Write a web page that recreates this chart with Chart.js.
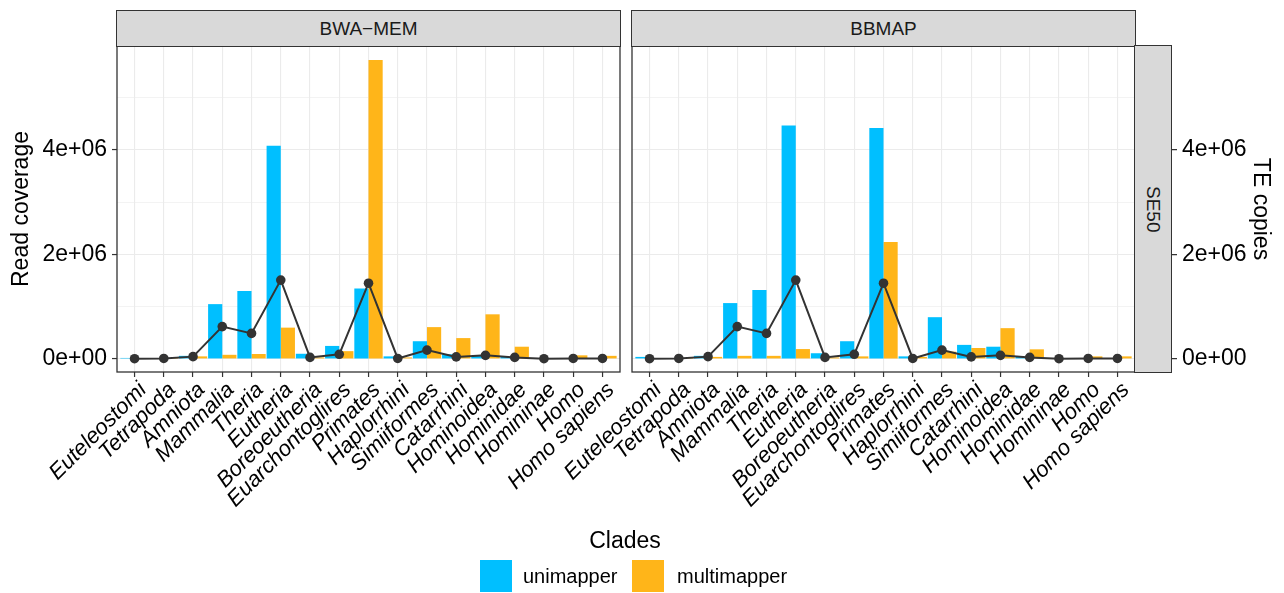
<!DOCTYPE html>
<html>
<head>
<meta charset="utf-8">
<script src="https://cdn.jsdelivr.net/npm/chart.js@4.4.1/dist/chart.umd.min.js"></script>
<style>
  html, body { margin: 0; padding: 0; background: #fff; }
  #fig { position: relative; width: 1284px; height: 593px; overflow: hidden;
         font-family: "Liberation Sans", Arial, Helvetica, sans-serif; }
  #fig canvas { position: absolute; top: 0; }
  .strip { position: absolute; box-sizing: border-box; background: #d9d9d9;
           border: 1px solid #333; color: #1a1a1a; font-size: 19px;
           display: flex; align-items: center; justify-content: center; z-index: 2; }
  .strip.side { writing-mode: vertical-rl; }
  .legend-title { position: absolute; left: 525px; width: 200px; top: 527px;
                  text-align: center; font-size: 23px; line-height: 27px; color: #000; }
  .key { position: absolute; top: 560px; width: 32px; height: 32px; }
  .key-label { position: absolute; top: 565px; font-size: 20px; line-height: 23px; color: #000; }
</style>
</head>
<body>
<div id="fig">
  <canvas id="bwa" width="626" height="593" style="left:0"></canvas>
  <canvas id="bbmap" width="784" height="593" style="left:500px"></canvas>
  <div class="strip" style="left:116px; top:10px; width:505px; height:37px;">BWA−MEM</div>
  <div class="strip" style="left:631px; top:10px; width:505px; height:37px;">BBMAP</div>
  <div class="strip side" style="left:1134px; top:45px; width:38px; height:328px;">SE50</div>
  <div class="legend-title">Clades</div>
  <div class="key" style="left:480px; background:#00bfff;"></div>
  <div class="key-label" style="left:523px;">unimapper</div>
  <div class="key" style="left:632px; background:#ffb519;"></div>
  <div class="key-label" style="left:677px;">multimapper</div>
</div>
<script>
// Clades along the x axis, oldest to youngest
const clades = ['Euteleostomi', 'Tetrapoda', 'Amniota', 'Mammalia', 'Theria', 'Eutheria',
  'Boreoeutheria', 'Euarchontoglires', 'Primates', 'Haplorrhini', 'Simiiformes', 'Catarrhini',
  'Hominoidea', 'Hominidae', 'Homininae', 'Homo', 'Homo sapiens'];

// Read coverage per clade, BWA-MEM aligner
const bwaUnimapper   = [20000, 10000, 60000, 1050000, 1300000, 4080000, 100000, 250000, 1350000,
  50000, 340000, 90000, 60000, 40000, 10000, 10000, 10000];
const bwaMultimapper = [10000, 20000, 50000, 80000, 95000, 600000, 30000, 150000, 5720000,
  30000, 610000, 400000, 855000, 235000, 10000, 70000, 60000];

// Read coverage per clade, BBMAP aligner
const bbmapUnimapper   = [40000, 10000, 60000, 1070000, 1320000, 4470000, 110000, 340000, 4420000,
  50000, 800000, 270000, 235000, 40000, 10000, 10000, 10000];
const bbmapMultimapper = [10000, 20000, 40000, 60000, 60000, 190000, 30000, 50000, 2240000,
  40000, 140000, 210000, 590000, 185000, 10000, 50000, 50000];

// Number of TE copies per clade (same for both aligners)
const teCopies = [6000, 10000, 45000, 620000, 490000, 1510000, 30000, 90000, 1450000,
  10000, 170000, 40000, 70000, 30000, 5000, 10000, 10000];

// y axis: gridlines every 1e6, labelled every 2e6
const yTicks = [0, 1000000, 2000000, 3000000, 4000000, 5000000];
const yLabelled = [0, 2000000, 4000000];
const yMin = -249000, yMax = 5990000;

const FONT = '"Liberation Sans", Arial, Helvetica, sans-serif';
const BLUE = '#00bfff', ORANGE = '#ffb519', INK = '#333333', GRID = '#ebebeb';

function sci(v) {
  if (v === 0) return '0e+00';
  const e = Math.floor(Math.log10(Math.abs(v)));
  const m = Math.round(v / Math.pow(10, e));
  return m + 'e' + (e < 0 ? '-' : '+') + String(Math.abs(e)).padStart(2, '0');
}
const isMajor = v => yLabelled.includes(v);
const pts = arr => arr.map((v, i) => ({ x: i, y: v }));

// dark frame round each facet panel
const panelFrame = {
  id: 'panelFrame',
  afterDraw(chart) {
    const { ctx, chartArea: a } = chart;
    ctx.save();
    ctx.strokeStyle = INK;
    ctx.lineWidth = 1.3;
    ctx.strokeRect(a.left, a.top, a.right - a.left, a.bottom - a.top);
    ctx.restore();
  }
};

function makeDatasets(uni, multi) {
  return [
    { type: 'line', label: 'TE copies', data: pts(teCopies), order: 0,
      borderColor: INK, borderWidth: 2, pointRadius: 4.8, pointBackgroundColor: INK,
      pointBorderWidth: 0, tension: 0 },
    { type: 'bar', label: 'unimapper', data: pts(uni), order: 1,
      backgroundColor: BLUE, borderWidth: 0 },
    { type: 'bar', label: 'multimapper', data: pts(multi), order: 1,
      backgroundColor: ORANGE, borderWidth: 0 }
  ];
}

function xScale() {
  return {
    type: 'linear', min: -0.6, max: clades.length - 0.4, offset: false,
    afterBuildTicks: s => { s.ticks = clades.map((c, i) => ({ value: i })); },
    afterFit: s => { s.height = 221; },
    border: { display: false },
    grid: { offset: false, color: GRID, lineWidth: 1.1, tickLength: 5, tickColor: INK, tickWidth: 1.2 },
    // a transparent backdrop keeps each slanted label's top-right corner on its tick
    ticks: { autoSkip: false, minRotation: 45, maxRotation: 45, padding: 1, color: '#000',
      showLabelBackdrop: true, backdropColor: 'rgba(0,0,0,0)', backdropPadding: 0,
      font: { family: FONT, size: 22, style: 'italic', lineHeight: 1.1 },
      callback: v => clades[v] }
  };
}

function yScale(position, width, tickLen, titleText, titlePad) {
  return {
    type: 'linear', position, min: yMin, max: yMax,
    afterBuildTicks: s => { s.ticks = yTicks.map(v => ({ value: v })); },
    afterFit: s => { s.width = width; },
    border: { display: false },
    grid: {
      color: GRID,
      lineWidth: c => (c.tick && isMajor(c.tick.value)) ? 1.1 : 0.6,
      tickLength: tickLen,
      tickColor: c => (c.tick && isMajor(c.tick.value)) ? INK : 'rgba(0,0,0,0)',
      tickWidth: 1.2
    },
    ticks: { padding: 5, color: '#000', font: { family: FONT, size: 23 },
      callback: v => isMajor(v) ? sci(v) : '' },
    title: { display: true, text: titleText, color: '#000',
      font: { family: FONT, size: 23 }, padding: { top: titlePad, bottom: 0 } }
  };
}

function makePanel(id, uni, multi, padding, ySide) {
  return new Chart(document.getElementById(id), {
    type: 'bar',
    data: { datasets: makeDatasets(uni, multi) },
    options: {
      responsive: false, animation: false, devicePixelRatio: 1,
      layout: { padding },
      datasets: { bar: { barPercentage: 1, categoryPercentage: 0.97, grouped: true } },
      plugins: { legend: { display: false }, tooltip: { enabled: false } },
      scales: { x: xScale(), y: ySide }
    },
    plugins: [panelFrame]
  });
}

makePanel('bwa', bwaUnimapper, bwaMultimapper,
  { left: 0, right: 6, top: 46, bottom: 0 },
  yScale('left', 117, 5, 'Read coverage', 8));

makePanel('bbmap', bbmapUnimapper, bbmapMultimapper,
  { left: 132, right: 0, top: 46, bottom: 0 },
  yScale('right', 149, 42, 'TE copies', 10));
</script>
</body>
</html>
